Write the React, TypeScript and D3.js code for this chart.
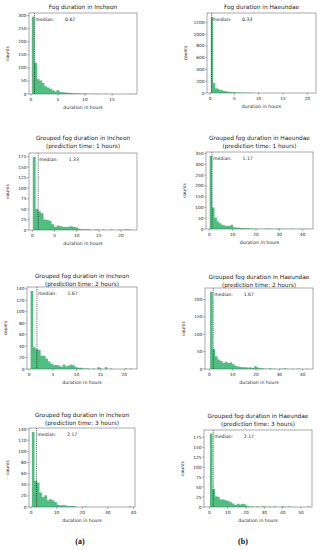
import React from "react";
import * as d3 from "d3";

// ---- data ----
const titles = [
  ["Fog duration in Incheon"],
  ["Fog duration in Haeundae"],
  ["Grouped fog duration in Incheon", "(prediction time: 1 hours)"],
  ["Grouped fog duration in Haeundae", "(prediction time: 1 hours)"],
  ["Grouped fog duration in Incheon", "(prediction time: 2 hours)"],
  ["Grouped fog duration in Haeundae", "(prediction time: 2 hours)"],
  ["Grouped fog duration in Incheon", "(prediction time: 3 hours)"],
  ["Grouped fog duration in Haeundae", "(prediction time: 3 hours)"],
];

const medians = [0.67, 0.33, 1.33, 1.17, 1.67, 1.67, 2.17, 2.17];

// first bin edge and bin width (hours) per histogram
const binStarts = [0.17, 0.17, 0.1, 0.17, 0.33, 0.33, 0.33, 0.33];
const binWidths = [0.46, 0.42, 0.6, 1.0, 0.52, 1.05, 0.97, 1.33];

const incheon0 = [296, 120, 57, 52, 42, 30, 25, 20, 14, 10, 15, 8, 7, 6, 5, 4, 3, 3, 2, 2, 1, 2, 1, 0, 1, 1, 1, 0, 0, 1, 0, 0, 1, 0, 0, 0, 0, 0, 0, 1, 0];
const haeundae0 = [1290, 170, 80, 72, 55, 45, 35, 28, 22, 18, 14, 12, 10, 8, 7, 6, 5, 5, 4, 3, 3, 2, 2, 6, 2, 1, 1, 1, 0, 1, 1, 0, 1, 0, 0, 1, 0, 0, 1, 0, 0, 0, 1, 0, 0, 0, 0, 1];
const incheon1 = [175, 50, 45, 40, 25, 24, 22, 14, 8, 11, 9, 8, 7, 8, 9, 7, 6, 3, 2, 1, 2, 1, 0, 1, 1, 0, 1, 0, 0, 1, 0, 0, 1, 0, 1, 1, 1];
const haeundae1 = [340, 100, 52, 35, 27, 20, 16, 14, 15, 20, 8, 7, 6, 5, 4, 4, 3, 2, 2, 1, 1, 1, 0, 1, 2, 1, 1, 0, 1, 2, 1, 0, 1, 0, 1, 1, 0, 0, 1, 0, 1, 1];
const incheon2 = [136, 38, 35, 33, 23, 23, 18, 13, 9, 7, 7, 6, 4, 8, 5, 6, 8, 6, 3, 2, 2, 1, 1, 1, 0, 1, 0, 3, 1, 0, 3, 0, 1, 0, 0, 0, 0, 0, 1, 0, 1, 0];
const haeundae2 = [222, 57, 37, 27, 23, 18, 21, 17, 19, 14, 9, 7, 6, 5, 5, 4, 4, 3, 8, 4, 2, 2, 1, 1, 2, 1, 1, 0, 1, 1, 2, 1, 0, 1, 0, 1, 1, 0, 0, 1];
const incheon3 = [135, 47, 44, 26, 18, 21, 12, 14, 12, 9, 4, 3, 3, 3, 2, 2, 2, 1, 0, 0, 0, 1, 0, 0, 0, 0, 0, 0, 0, 0, 0, 0, 0, 0, 0, 0, 0, 0, 0, 1];
const haeundae3 = [184, 45, 27, 25, 19, 19, 17, 15, 12, 9, 5, 8, 6, 8, 6, 2, 1, 1, 0, 1, 0, 1, 1, 0, 1, 0, 1, 0, 0, 1, 1, 0, 1, 0, 0, 0, 0, 0, 0, 0, 1];

const counts = [incheon0, haeundae0, incheon1, haeundae1, incheon2, haeundae2, incheon3, haeundae3];

const xTicks = [
  [0, 5, 10, 15],
  [0, 5, 10, 15, 20],
  [0, 5, 10, 15, 20],
  [0, 10, 20, 30, 40],
  [0, 5, 10, 15, 20],
  [0, 10, 20, 30, 40],
  [0, 10, 20, 30, 40],
  [0, 10, 20, 30, 40, 50],
];
const yTicks = [
  [0, 50, 100, 150, 200, 250, 300],
  [0, 200, 400, 600, 800, 1000, 1200],
  [0, 25, 50, 75, 100, 125, 150, 175],
  [0, 50, 100, 150, 200, 250, 300, 350],
  [0, 20, 40, 60, 80, 100, 120, 140],
  [0, 50, 100, 150, 200],
  [0, 20, 40, 60, 80, 100, 120, 140],
  [0, 25, 50, 75, 100, 125, 150, 175],
];

// ---- layout ----
const boxes = [
  { x0: 29, x1: 137, y0: 13, y1: 94, xd: [-0.35, 19.6], yd: [0, 310], ty: 9 },
  { x0: 207, x1: 316, y0: 13, y1: 93, xd: [-0.62, 21.8], yd: [0, 1360], ty: 9 },
  { x0: 29, x1: 137, y0: 153, y1: 230, xd: [-0.75, 23.6], yd: [0, 184], ty: 140 },
  { x0: 206, x1: 313, y0: 152, y1: 229, xd: [-1.4, 44.4], yd: [0, 357], ty: 140 },
  { x0: 27, x1: 137, y0: 287, y1: 369, xd: [-0.42, 22.7], yd: [0, 143], ty: 278 },
  { x0: 205, x1: 313, y0: 288, y1: 369, xd: [-1.85, 44.4], yd: [0, 233], ty: 279 },
  { x0: 29, x1: 135, y0: 428, y1: 507, xd: [-0.78, 40.6], yd: [0, 142], ty: 417 },
  { x0: 204, x1: 312, y0: 430, y1: 507, xd: [-2.9, 56], yd: [0, 193], ty: 418 },
];

const FONT = "DejaVu Sans, sans-serif";
const GREEN = "#4fbf81";

// one outline per histogram, so neighbouring bars leave no seams
function histPath(i: number, x: d3.ScaleLinear<number, number>, y: d3.ScaleLinear<number, number>) {
  const p = d3.path();
  const w = binWidths[i];
  counts[i].forEach((c, k) => {
    if (c <= 0) return;
    const l = x(binStarts[i] + k * w);
    const r = x(binStarts[i] + (k + 1) * w);
    p.rect(l, y(c), r - l + 0.15, y(0) - y(c));
  });
  return p.toString();
}

function Panel({ i }: { i: number }) {
  const b = boxes[i];
  const x = d3.scaleLinear().domain(b.xd).range([b.x0, b.x1]);
  const y = d3.scaleLinear().domain(b.yd).range([b.y1, b.y0]);
  const mx = x(medians[i]);
  return (
    <g>
      <defs>
        <clipPath id={"clip" + i}>
          <rect x={b.x0} y={b.y0} width={b.x1 - b.x0} height={b.y1 - b.y0} />
        </clipPath>
      </defs>
      {titles[i].map((t, k) => (
        <text key={k} x={(b.x0 + b.x1) / 2} y={b.ty + k * 7.5} textAnchor="middle" fontSize={5.8} fontFamily={FONT} fill="#222">
          {t}
        </text>
      ))}
      <path d={histPath(i, x, y)} fill={GREEN} clipPath={`url(#clip${i})`} />
      <line x1={mx} x2={mx} y1={b.y0} y2={b.y1} stroke="#111" strokeWidth={0.6} strokeDasharray="1.2,0.9" />
      <text x={mx + 1} y={b.y0 + 7.6} fontSize={4.6} fontFamily={FONT} fill="#222">median:</text>
      <text x={mx + 30.5} y={b.y0 + 7.6} fontSize={4.6} fontFamily={FONT} fill="#222">{medians[i].toFixed(2)}</text>
      <rect x={b.x0} y={b.y0} width={b.x1 - b.x0} height={b.y1 - b.y0} fill="none" stroke="#555" strokeWidth={0.5} />
      {xTicks[i].map((t) => (
        <g key={"x" + t}>
          <line x1={x(t)} x2={x(t)} y1={b.y1} y2={b.y1 + 1.8} stroke="#333" strokeWidth={0.4} />
          <text x={x(t)} y={b.y1 + 6.8} textAnchor="middle" fontSize={4.3} fontFamily={FONT} fill="#222">{t}</text>
        </g>
      ))}
      {yTicks[i].map((t) => (
        <g key={"y" + t}>
          <line x1={b.x0 - 1.8} x2={b.x0} y1={y(t)} y2={y(t)} stroke="#333" strokeWidth={0.4} />
          <text x={b.x0 - 2.6} y={y(t) + 1.5} textAnchor="end" fontSize={4.3} fontFamily={FONT} fill="#222">{t}</text>
        </g>
      ))}
      <text x={(b.x0 + b.x1) / 2} y={b.y1 + 14.5} textAnchor="middle" fontSize={4.6} fontFamily={FONT} fill="#222">
        duration in hours
      </text>
      <text
        transform={`translate(${b.x0 - 20},${(b.y0 + b.y1) / 2}) rotate(-90)`}
        textAnchor="middle"
        fontSize={4.4}
        fontFamily={FONT}
        fill="#222"
      >
        counts
      </text>
    </g>
  );
}

export default function App() {
  return (
    <svg width={321} height={550} style={{ position: "absolute", left: 0, top: 0, background: "#fff" }}>
      {boxes.map((_, i) => (
        <Panel key={i} i={i} />
      ))}
      <text x={80} y={544} textAnchor="middle" fontSize={8} fontFamily="Liberation Serif, serif" fontWeight="bold" fill="#111">(a)</text>
      <text x={243} y={544} textAnchor="middle" fontSize={8} fontFamily="Liberation Serif, serif" fontWeight="bold" fill="#111">(b)</text>
    </svg>
  );
}
